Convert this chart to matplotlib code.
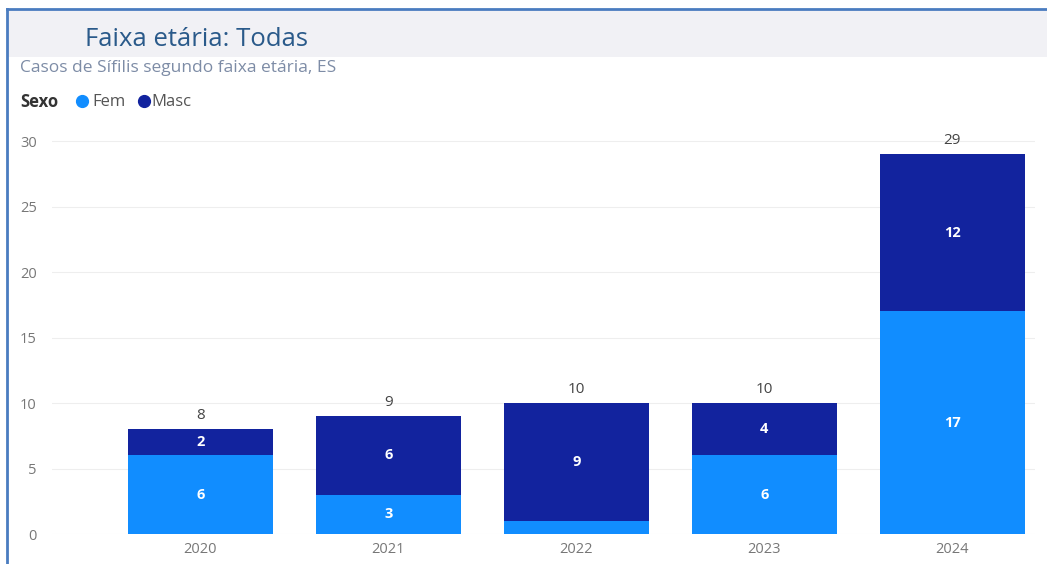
import numpy as np
import matplotlib.pyplot as plt
from matplotlib.patches import Rectangle
from matplotlib.lines import Line2D

years = ["2020", "2021", "2022", "2023", "2024"]
fem = [6, 3, 1, 6, 17]
masc = [2, 6, 9, 4, 12]
femLabels = ["6", "3", "", "6", "17"]
mascLabels = ["2", "6", "9", "4", "12"]

FEM_COLOR = "#118DFF"
MASC_COLOR = "#12239E"

plt.rcParams["font.family"] = ["Open Sans", "DejaVu Sans"]

fig = plt.figure(figsize=(10.47, 5.64), dpi=100)
fig.patch.set_facecolor("white")

# header band and frame
fig.add_artist(Rectangle((7 / 1047, 1 - 57 / 564), 1, 47 / 564, transform=fig.transFigure,
                         facecolor="#f1f1f5", edgecolor="none", zorder=0))
fig.add_artist(Line2D([7 / 1047, 1], [1 - 9 / 564] * 2, transform=fig.transFigure, color="#4a7cc0", lw=2))
fig.add_artist(Line2D([7 / 1047] * 2, [0, 1 - 9 / 564], transform=fig.transFigure, color="#4a7cc0", lw=2))

ax = fig.add_axes([52 / 1047, 30 / 564, (1035 - 52) / 1047, (534 - 128) / 564])
x = np.arange(len(years))
w = 0.77
ax.bar(x, fem, w, color=FEM_COLOR, zorder=3)
ax.bar(x, masc, w, bottom=fem, color=MASC_COLOR, zorder=3)

for i in range(len(years)):
    if femLabels[i]:
        ax.text(x[i], fem[i] / 2, femLabels[i], ha="center", va="center", color="white",
                fontsize=10.5, fontweight="bold", zorder=4)
    ax.text(x[i], fem[i] + masc[i] / 2, mascLabels[i], ha="center", va="center", color="white",
            fontsize=10.5, fontweight="bold", zorder=4)
    ax.text(x[i], fem[i] + masc[i] + 0.45, str(fem[i] + masc[i]), ha="center", va="bottom",
            color="#444444", fontsize=11, zorder=4)

ax.set_xlim(-0.79, 4.44)
ax.set_ylim(0, 31)
ax.set_yticks([0, 5, 10, 15, 20, 25, 30])
ax.set_xticks(x)
ax.set_xticklabels(years)
ax.tick_params(axis="both", length=0, colors="#777777", labelsize=10.5)
ax.tick_params(axis="y", pad=11)
ax.tick_params(axis="x", pad=6)
ax.grid(axis="y", color="#eeeeee", lw=0.8, zorder=0)
for s in ax.spines.values():
    s.set_visible(False)

fig.text(85 / 1047, 1 - 40 / 564, "Faixa etária: Todas", fontsize=18.5, color="#2a5a8a",
         va="center", ha="left")
fig.text(20 / 1047, 1 - 68 / 564, "Casos de Sífilis segundo faixa etária, ES", fontsize=12.5,
         color="#7d8ca6", va="center", ha="left")
fig.text(20 / 1047, 1 - 102 / 564, "Sexo", fontsize=12, color="#333333", fontweight="bold",
         va="center", ha="left")
fig.add_artist(Line2D([82 / 1047], [1 - 101 / 564], transform=fig.transFigure, marker="o",
                      markersize=8.5, color=FEM_COLOR, lw=0))
fig.text(92 / 1047, 1 - 102 / 564, "Fem", fontsize=12, color="#555555", va="center", ha="left")
fig.add_artist(Line2D([144 / 1047], [1 - 101 / 564], transform=fig.transFigure, marker="o",
                      markersize=8.5, color=MASC_COLOR, lw=0))
fig.text(151 / 1047, 1 - 102 / 564, "Masc", fontsize=12, color="#555555", va="center", ha="left")

fig.savefig("out.png", dpi=100)
